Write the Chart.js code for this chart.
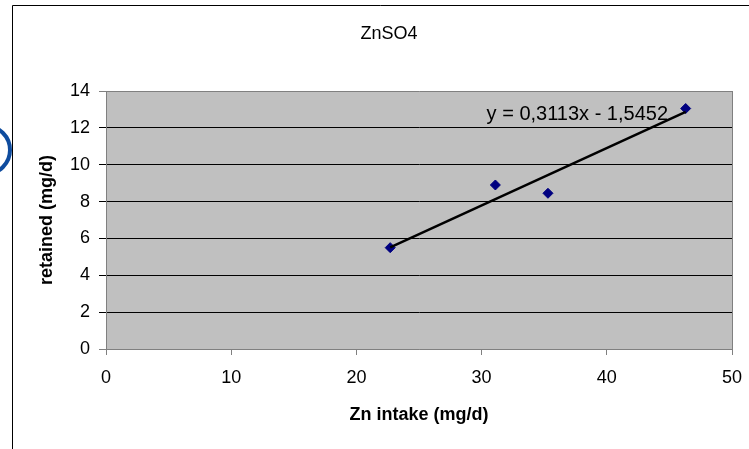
<!DOCTYPE html>
<html>
<head>
<meta charset="utf-8">
<script src="https://cdn.jsdelivr.net/npm/chart.js@4.4.1/dist/chart.umd.min.js"></script>
<style>
  html, body { margin: 0; padding: 0; background: #fff; }
  canvas { display: block; }
</style>
</head>
<body>
<canvas id="znChart" width="749" height="449"></canvas>
<script>
// data
const intake = [22.7, 31.1, 35.3, 46.3];
const retained = [5.5, 8.9, 8.45, 13.05];
const trendIntake = [22.7, 46.3];
const trendRetained = [5.52, 12.87];
const equationText = "y = 0,3113x - 1,5452";
const chartTitle = "ZnSO4";
const xTitle = "Zn intake (mg/d)";
const yTitle = "retained (mg/d)";

const FONT = "Arial, 'Liberation Sans', sans-serif";

// grey plot area + outer frame (and the stray blue ring at the left edge)
const backdrop = {
  id: "backdrop",
  beforeDraw: chart => {
    const ctx = chart.ctx;
    const a = chart.chartArea;
    ctx.save();
    ctx.fillStyle = "#c0c0c0";
    ctx.fillRect(a.left, a.top, a.right - a.left, a.bottom - a.top);

    ctx.strokeStyle = "#0f4c9e";
    ctx.lineWidth = 4;
    ctx.beginPath();
    ctx.arc(-14, 150, 24, 0, Math.PI * 2);
    ctx.stroke();

    ctx.strokeStyle = "#000";
    ctx.lineWidth = 1;
    ctx.beginPath();
    ctx.moveTo(12.5, 449);
    ctx.lineTo(12.5, 5.5);
    ctx.lineTo(749, 5.5);
    ctx.stroke();

    // title sits a bit left of the plot centre in the original
    ctx.font = "18px " + FONT;
    ctx.fillStyle = "#000";
    ctx.textAlign = "center";
    ctx.textBaseline = "middle";
    ctx.fillText(chartTitle, 389, 34);
    ctx.restore();
  }
};

const equationLabel = {
  id: "equationLabel",
  afterDatasetsDraw: chart => {
    const ctx = chart.ctx;
    const x = chart.scales.x.getPixelForValue(30.4);
    const y = chart.scales.y.getPixelForValue(12.7);
    ctx.save();
    ctx.font = "20px " + FONT;
    ctx.fillStyle = "#000";
    ctx.textAlign = "left";
    ctx.textBaseline = "middle";
    ctx.fillText(equationText, x, y);
    ctx.restore();
  }
};

const greyOrBlack = c => (c.tick.value === 0 || c.tick.value === 14) ? "#808080" : "#000";

new Chart(document.getElementById("znChart"), {
  type: "scatter",
  data: {
    datasets: [{
      label: "trend",
      data: trendIntake.map((x, i) => ({ x: x, y: trendRetained[i] })),
      showLine: true,
      borderColor: "#000",
      borderWidth: 2.5,
      pointRadius: 0
    }, {
      label: "ZnSO4",
      data: intake.map((x, i) => ({ x: x, y: retained[i] })),
      pointStyle: "rectRot",
      pointRadius: 5,
      pointBackgroundColor: "#000080",
      pointBorderColor: "#000080",
      pointBorderWidth: 1
    }]
  },
  options: {
    responsive: false,
    animation: false,
    layout: { padding: { left: 32, right: 17, top: 91, bottom: 19 } },
    plugins: {
      legend: { display: false },
      tooltip: { enabled: false },
      title: { display: false }
    },
    scales: {
      x: {
        type: "linear",
        min: 0,
        max: 50,
        ticks: { stepSize: 10, color: "#000", padding: 12, font: { family: FONT, size: 18 } },
        grid: {
          color: c => c.tick.value === 50 ? "#808080" : "rgba(0,0,0,0)",
          tickColor: "#808080",
          tickLength: 6
        },
        border: { color: "#808080" },
        title: {
          display: true,
          text: xTitle,
          color: "#000",
          font: { family: FONT, size: 18, weight: "bold" },
          padding: 4
        },
        afterFit: s => {
          s.height = 81;
          // labels may hang past the plot edge, no extra room needed
          s.paddingLeft = 0;
          s.paddingRight = 0;
        }
      },
      y: {
        min: 0,
        max: 14,
        ticks: { stepSize: 2, color: "#000", padding: 9, font: { family: FONT, size: 18 } },
        grid: { color: greyOrBlack, tickColor: greyOrBlack, tickLength: 7 },
        border: { color: "#808080" },
        title: {
          display: true,
          text: yTitle,
          color: "#000",
          font: { family: FONT, size: 18, weight: "bold" },
          padding: 4
        },
        afterFit: s => { s.width = 74; }
      }
    }
  },
  plugins: [backdrop, equationLabel]
});
</script>
</body>
</html>
